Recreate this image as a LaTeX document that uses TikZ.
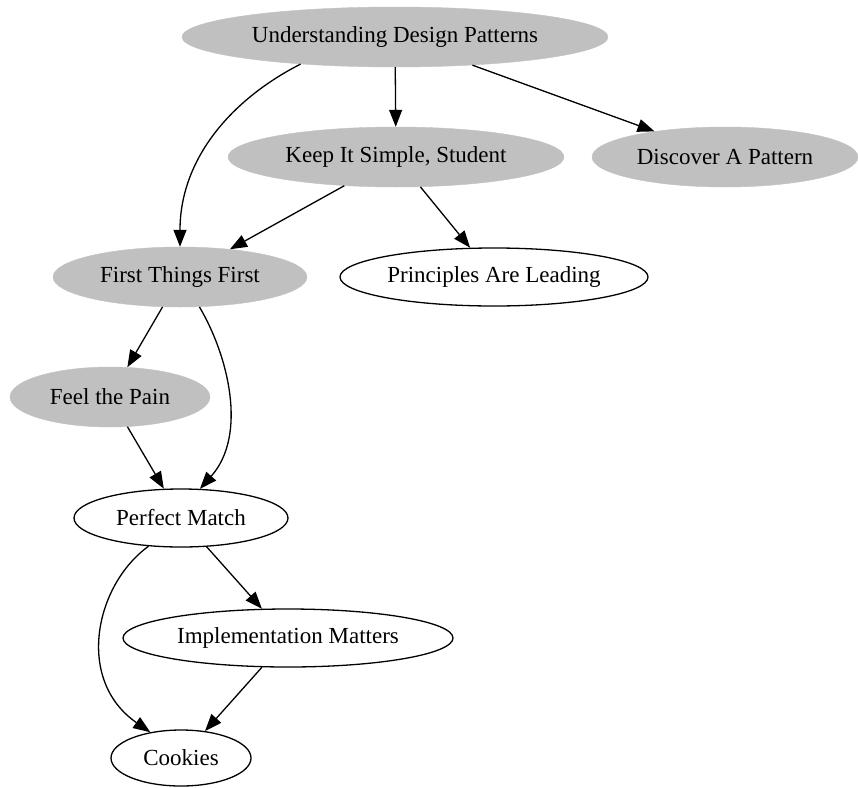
\documentclass[tikz,border=0pt]{standalone}
\usepackage{fontspec}
\setmainfont{Liberation Serif}
\usetikzlibrary{shapes.geometric,arrows.meta}
\definecolor{gvgray}{RGB}{192,192,192}
\tikzset{
  base/.style={ellipse, inner sep=0pt, font=\fontsize{23}{27}\selectfont},
  grayn/.style={base, fill=gvgray, draw=gvgray},
  whiten/.style={base, fill=white, draw=black, line width=1.3pt},
  edge/.style={draw=black, line width=1.3pt, -{Triangle[length=17pt,width=13pt]}},
}
\begin{document}
\begin{tikzpicture}[x=1pt,y=-1pt]
\useasboundingbox (0,0) rectangle (858,787);
\node[grayn, minimum width=426pt, minimum height=60pt] (udp) at (395,37) {Understanding Design Patterns};
\node[grayn, minimum width=336pt, minimum height=60pt] (kiss) at (396,157) {Keep It Simple, Student};
\node[grayn, minimum width=266pt, minimum height=60pt] (dap) at (725,157) {Discover A Pattern};
\node[grayn, minimum width=254pt, minimum height=60pt] (ftf) at (180,277) {First Things First};
\node[whiten, minimum width=308pt, minimum height=58pt] (pal) at (494,277) {Principles Are Leading};
\node[grayn, minimum width=200pt, minimum height=60pt] (ftp) at (110,397) {Feel the Pain};
\node[whiten, minimum width=214pt, minimum height=58pt] (pm) at (181,518) {Perfect Match};
\node[whiten, minimum width=330pt, minimum height=58pt] (im) at (288,638) {Implementation Matters};
\node[whiten, minimum width=140pt, minimum height=56pt] (ck) at (181,758) {Cookies};

\draw[edge] (udp.196) .. controls (230,100) and (180,160) .. (ftf.north);
\draw[edge] (udp) -- (kiss);
\draw[edge] (udp) -- (dap);
\draw[edge] (kiss) -- (ftf);
\draw[edge] (kiss) -- (pal);
\draw[edge] (ftf) -- (ftp);
\draw[edge] (ftf.-57) .. controls (228,355) and (248,435) .. (pm.57);
\draw[edge] (ftp) -- (pm);
\draw[edge] (pm) -- (im);
\draw[edge] (pm.221) .. controls (95,585) and (75,680) .. (ck.140);
\draw[edge] (im) -- (ck);
\end{tikzpicture}
\end{document}
